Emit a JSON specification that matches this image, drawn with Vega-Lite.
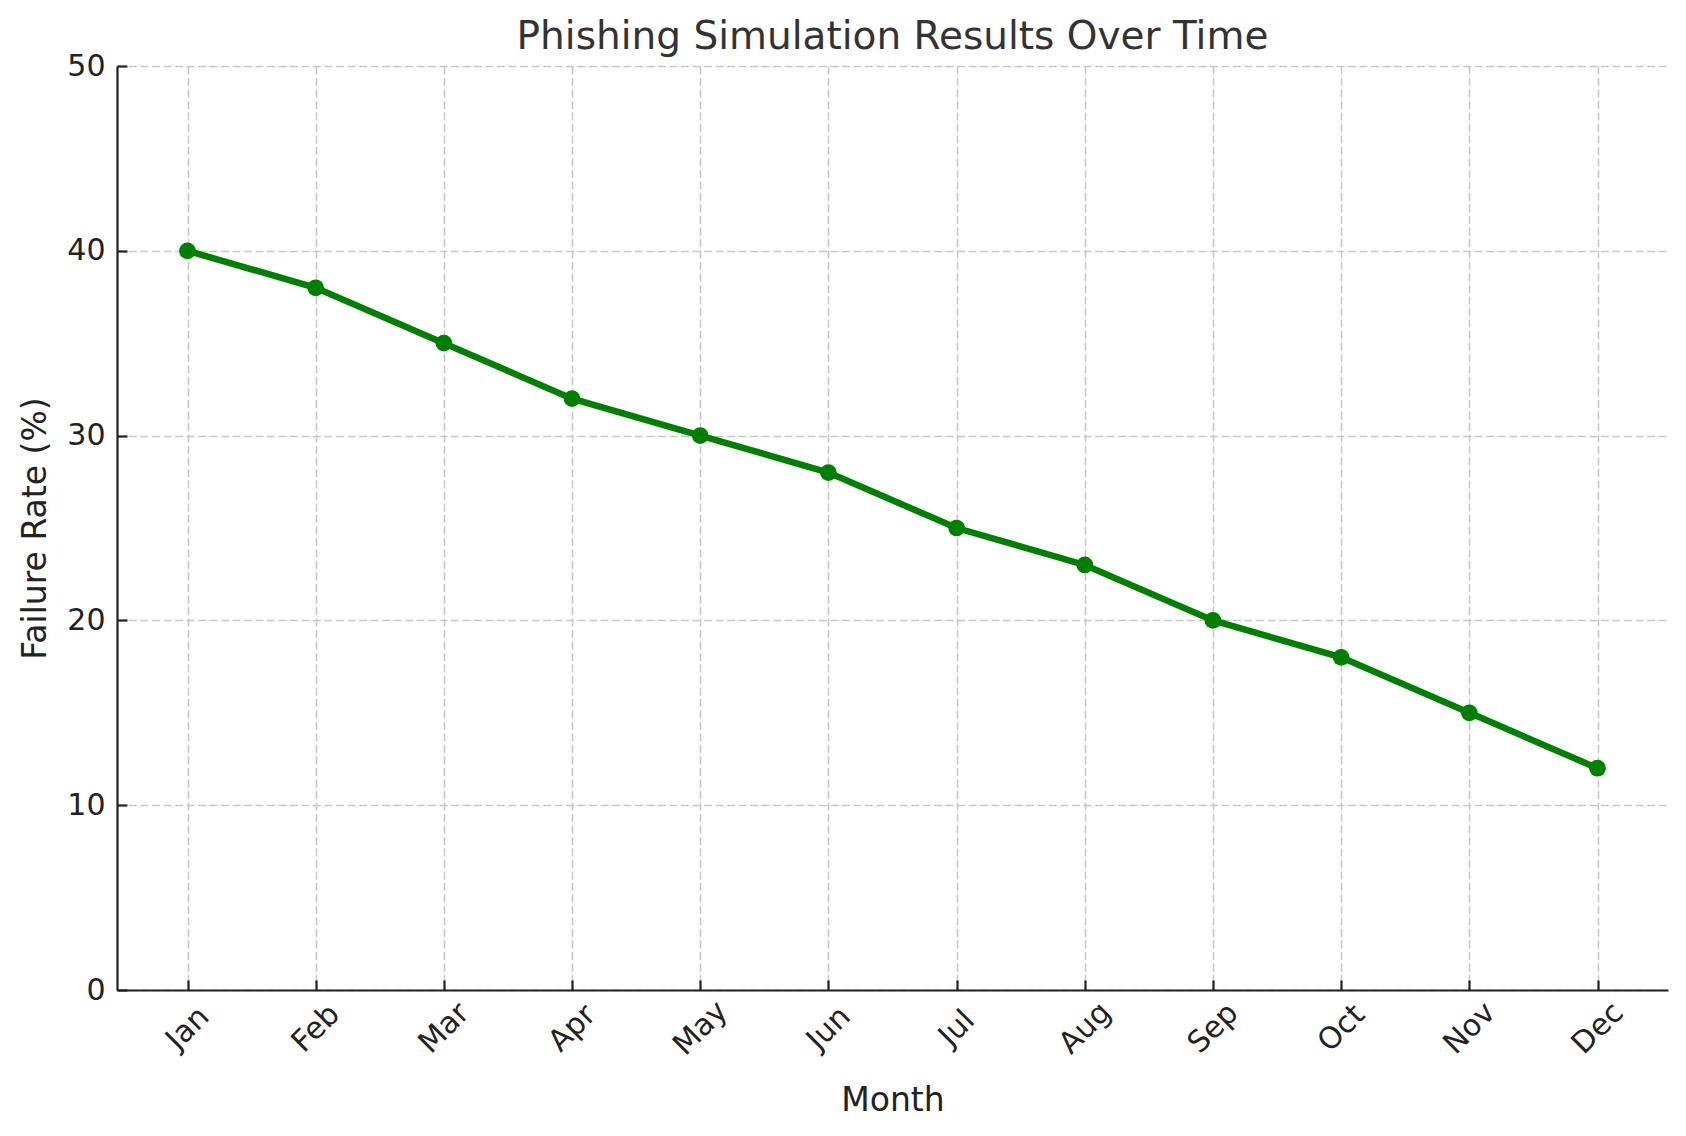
{
  "$schema": "https://vega.github.io/schema/vega-lite/v6.json",
  "autosize": {"type": "none"},
  "padding": {"left": 117, "top": 66, "right": 18, "bottom": 146},
  "width": 1551,
  "height": 924,
  "background": "white",
  "title": {
    "text": "Phishing Simulation Results Over Time",
    "anchor": "middle",
    "frame": "group",
    "font": "DejaVu Sans",
    "fontSize": 39,
    "fontWeight": "normal",
    "color": "#333333",
    "baseline": "alphabetic",
    "offset": 0,
    "dy": 37
  },
  "config": {
    "view": {"stroke": null},
    "axis": {
      "labelFont": "DejaVu Sans",
      "titleFont": "DejaVu Sans",
      "labelFontSize": 30,
      "titleFontSize": 33,
      "titleFontWeight": "normal",
      "labelColor": "#222222",
      "titleColor": "#222222",
      "domainColor": "#222222",
      "domainWidth": 2.2,
      "tickColor": "#222222",
      "tickWidth": 2.2,
      "gridColor": "#c8c8c8",
      "gridWidth": 1.6,
      "gridDash": [8, 3.5]
    }
  },
  "data": {
    "values": [
      {"month": "Jan", "rate": 40},
      {"month": "Feb", "rate": 38},
      {"month": "Mar", "rate": 35},
      {"month": "Apr", "rate": 32},
      {"month": "May", "rate": 30},
      {"month": "Jun", "rate": 28},
      {"month": "Jul", "rate": 25},
      {"month": "Aug", "rate": 23},
      {"month": "Sep", "rate": 20},
      {"month": "Oct", "rate": 18},
      {"month": "Nov", "rate": 15},
      {"month": "Dec", "rate": 12}
    ]
  },
  "layer": [
    {
      "mark": {"type": "line", "color": "#008000", "strokeWidth": 6.5},
      "encoding": {
        "x": {
          "field": "month",
          "type": "ordinal",
          "sort": null,
          "scale": {"type": "point", "padding": 0.55},
          "axis": {
            "title": "Month",
            "orient": "bottom",
            "grid": true,
            "ticks": false,
            "labelAngle": -45,
            "labelAlign": "center",
            "labelBaseline": "middle",
            "labelPadding": 38,
            "titleY": 120,
            "titleBaseline": "alphabetic"
          }
        },
        "y": {
          "field": "rate",
          "type": "quantitative",
          "scale": {"domain": [0, 50], "nice": false},
          "axis": {
            "title": "Failure Rate (%)",
            "orient": "left",
            "values": [0, 10, 20, 30, 40, 50],
            "ticks": false,
            "labelPadding": 12,
            "titleX": -72,
            "titleY": 462,
            "titleAngle": -90,
            "titleAlign": "center",
            "titleBaseline": "alphabetic"
          }
        }
      }
    },
    {
      "mark": {"type": "point", "filled": true, "color": "#008000", "opacity": 1, "size": 280},
      "encoding": {
        "x": {
          "field": "month",
          "type": "ordinal",
          "sort": null,
          "axis": {
            "orient": "bottom",
            "title": null,
            "domain": false,
            "labels": false,
            "grid": false,
            "ticks": true,
            "tickSize": 10,
            "offset": -10
          }
        },
        "y": {
          "field": "rate",
          "type": "quantitative",
          "axis": {
            "orient": "left",
            "title": null,
            "values": [0, 10, 20, 30, 40, 50],
            "domain": false,
            "labels": false,
            "grid": false,
            "ticks": true,
            "tickSize": 10,
            "offset": -10
          }
        }
      }
    }
  ],
  "resolve": {"axis": {"x": "independent", "y": "independent"}}
}
